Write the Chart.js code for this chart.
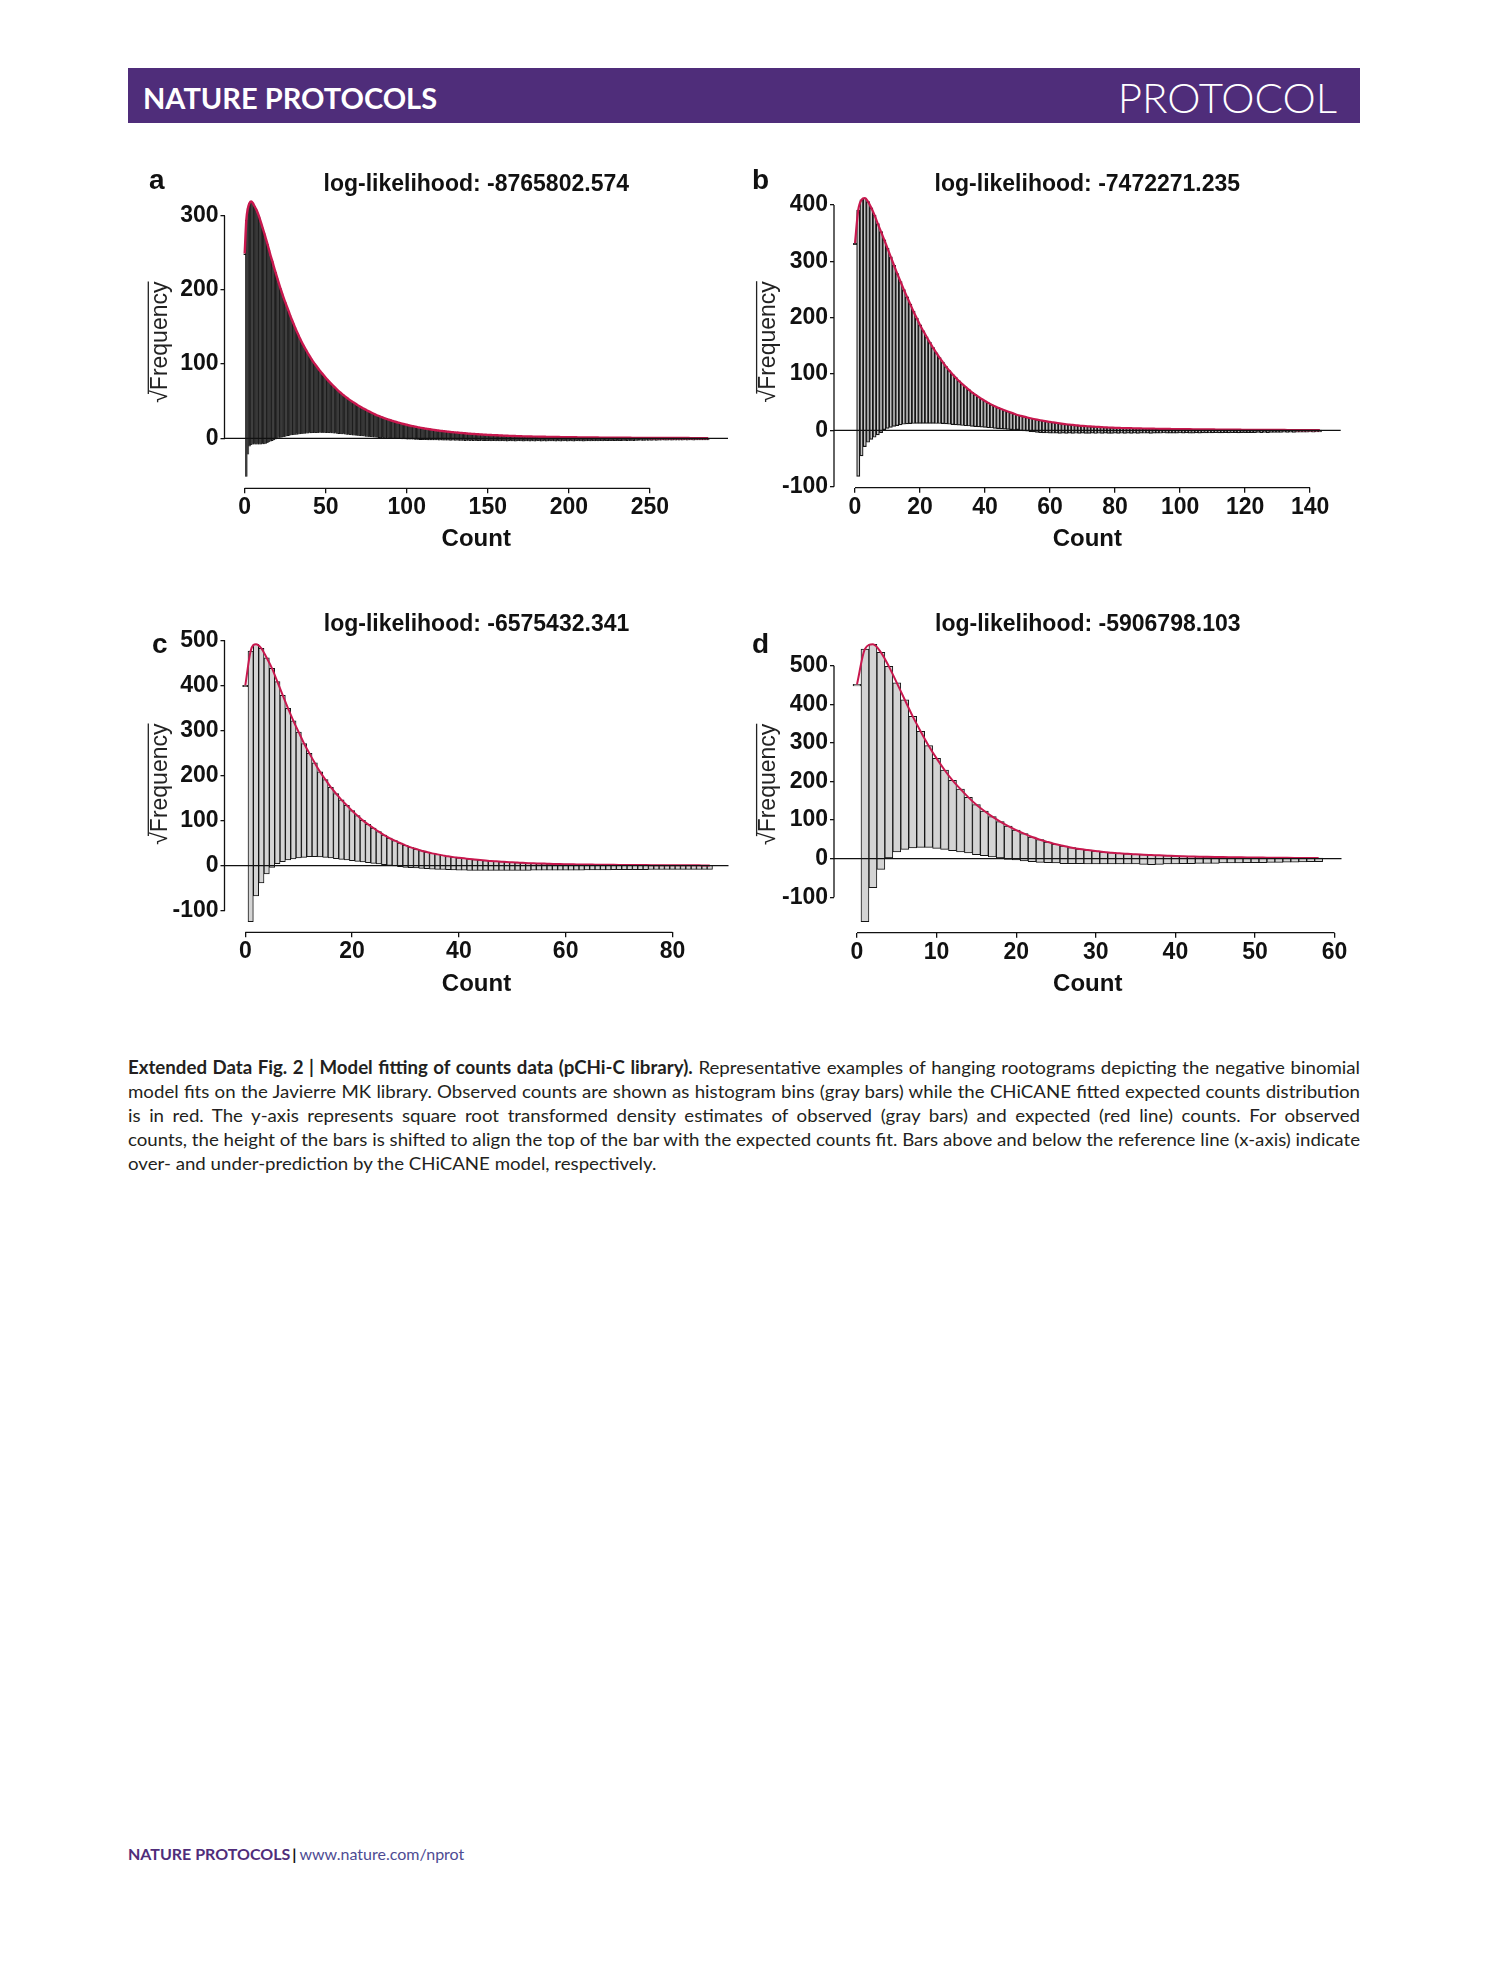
<!DOCTYPE html>
<html>
<head>
<meta charset="utf-8">
<title>Extended Data Fig. 2 | Model fitting of counts data</title>
<script src="https://cdn.jsdelivr.net/npm/chart.js@4.4.1/dist/chart.umd.min.js"></script>
<style>
  body { margin: 0; background: #fff; }
  #page { position: relative; width: 1489px; height: 1978px; background: #fff; overflow: hidden; }
  .abs { position: absolute; }
  #header { left: 128px; top: 68px; width: 1232px; height: 55px; background: #4f2d7a; }
  #journal { left: 143px; top: 82.6px; font: 700 29px/1 Lato, sans-serif; color: #fff; white-space: nowrap; }
  #kind { right: 152px; top: 75.5px; font: 300 42px/1 Lato, sans-serif; color: #fff; white-space: nowrap; }
  .letter { position: absolute; font: 700 28px/1 "Liberation Sans", Arial, sans-serif; color: #111; }
  canvas { position: absolute; }
  .cap { position: absolute; left: 128px; white-space: nowrap; font: 400 18px/24px Lato, sans-serif; color: #231f20; transform-origin: 0 0; }
  .cap b { font-weight: 700; }
  #footer { left: 128px; top: 1846px; font: 16px/1 Lato, sans-serif; white-space: nowrap; }
  #footer .j { color: #4f2d7a; font-weight: 700; }
  #footer .bar { color: #111; font-weight: 700; margin: 0 3px 0 2px; }
  #footer .url { color: #4d4b93; }
</style>
</head>
<body>
<div id="page">
  <div id="header" class="abs"></div>
  <div id="journal" class="abs">NATURE PROTOCOLS</div>
  <div id="kind" class="abs">PROTOCOL</div>

  <canvas id="chartA" width="600" height="400" style="left:130px; top:160px"></canvas>
  <canvas id="chartB" width="630" height="400" style="left:730px; top:160px"></canvas>
  <canvas id="chartC" width="600" height="400" style="left:130px; top:600px"></canvas>
  <canvas id="chartD" width="630" height="400" style="left:730px; top:600px"></canvas>

  <div class="letter" style="left:149px; top:166px">a</div>
  <div class="letter" style="left:752px; top:166px">b</div>
  <div class="letter" style="left:152px; top:629.5px">c</div>
  <div class="letter" style="left:752px; top:629.5px">d</div>

  <div class="cap" style="top:1055px"><b>Extended Data Fig. 2 | Model fitting of counts data (pCHi-C library).</b> Representative examples of hanging rootograms depicting the negative binomial</div>
  <div class="cap" style="top:1079px">model fits on the Javierre MK library. Observed counts are shown as histogram bins (gray bars) while the CHiCANE fitted expected counts distribution</div>
  <div class="cap" style="top:1103px">is in red. The y-axis represents square root transformed density estimates of observed (gray bars) and expected (red line) counts. For observed</div>
  <div class="cap" style="top:1127px">counts, the height of the bars is shifted to align the top of the bar with the expected counts fit. Bars above and below the reference line (x-axis) indicate</div>
  <div class="cap" style="top:1151px">over- and under-prediction by the CHiCANE model, respectively.</div>

  <div id="footer" class="abs"><span class="j">NATURE PROTOCOLS</span><span class="bar">|</span><span class="url">www.nature.com/nprot</span></div>
</div>

<script>
// sqrt(expected frequency) per count = top of each hanging bar and the red fit
const expectedA = [
  249,294,310,317,319,317,313,309,304,298,
  291,284,277,269.5,262,254,246,239,231,224,
  216.5,209.5,202.5,196,189.5,183.5,177.7,172,166,160.5,
  155,149.8,144.6,139.8,135,130.5,126.2,122.3,118.4,114.6,
  111,107.5,104,101,98,95,92,89.4,86.8,84.2,
  81.6,79.1,76.7,74.4,72.1,69.9,67.8,65.7,63.7,61.7,
  59.8,58,56.3,54.6,53,51.4,49.9,48.5,47.1,45.7,
  44.3,43,41.7,40.5,39.3,38.1,37,35.9,34.8,33.7,
  32.6,31.6,30.7,29.8,28.9,28.1,27.3,26.5,25.7,25,
  24.3,23.6,22.9,22.3,21.6,21,20.4,19.8,19.2,18.7,
  18.2,17.6,17.1,16.6,16.2,15.7,15.3,14.8,14.4,14,
  13.6,13.2,12.9,12.5,12.2,11.9,11.5,11.2,10.9,10.6,
  10.3,10,9.8,9.5,9.3,9,8.8,8.5,8.3,8.1,
  7.9,7.7,7.5,7.3,7.1,6.9,6.7,6.5,6.3,6.2,
  6,5.9,5.7,5.6,5.4,5.3,5.1,5,4.9,4.7,
  4.6,4.5,4.4,4.3,4.2,4.1,4,3.9,3.8,3.7,
  3.6,3.5,3.4,3.3,3.2,3.1,3.05,3,2.9,2.8,
  2.7,2.65,2.6,2.55,2.5,2.45,2.4,2.35,2.3,2.25,
  2.2,2.15,2.1,2.05,2,2,1.95,1.9,1.9,1.85,
  1.8,1.77,1.73,1.7,1.66,1.63,1.6,1.56,1.53,1.5,
  1.46,1.43,1.4,1.36,1.33,1.3,1.26,1.23,1.2,1.16,
  1.13,1.1,1.08,1.06,1.04,1.02,1,0.98,0.96,0.94,
  0.92,0.9,0.88,0.86,0.84,0.82,0.8,0.78,0.76,0.74,
  0.72,0.7,0.69,0.68,0.67,0.66,0.65,0.63,0.62,0.61,
  0.6,0.59,0.57,0.56,0.55,0.54,0.53,0.51,0.5,0.49,
  0.48,0.47,0.45,0.44,0.43,0.43,0.42,0.41,0.41,0.4,
  0.39,0.38,0.38,0.37,0.36,0.35,0.35,0.34,0.33,0.32,
  0.32,0.31,0.3,0.3,0.29,0.28,0.27,0.27,0.26,0.25,
  0.24,0.24,0.23,0.22,0.21,0.21,0.2
];
// bottom of each hanging bar: sqrt(expected) - sqrt(observed)
const bottomA = [
  249,-52,-22,-11,-9,-8.5,-8.5,-8.5,-8.5,-8.5,
  -8.5,-8,-8,-7.5,-6.5,-5.5,-4.5,-3.5,-2.5,-1.5,
  -0.8,0,0.7,1.2,1.7,2.2,2.7,3.2,3.6,4,
  4.3,4.6,4.9,5.2,5.5,5.8,6,6.2,6.3,6.5,
  6.7,6.9,7,7.1,7.2,7.2,7.3,7.3,7.2,7.3,
  7.2,7.1,7,6.8,6.7,6.5,6.3,6.1,5.9,5.7,
  5.5,5.3,5.1,4.9,4.6,4.4,4.1,3.9,3.7,3.5,
  3.3,3.1,2.9,2.7,2.4,2.2,2,1.8,1.6,1.3,
  1.1,0.9,0.7,0.5,0.3,0.1,-0.1,-0.3,-0.4,-0.5,
  -0.6,-0.7,-0.8,-0.9,-0.9,-1,-1.1,-1.2,-1.3,-1.4,
  -1.5,-1.6,-1.6,-1.7,-1.8,-1.9,-2,-2.1,-2.2,-2.2,
  -2.3,-2.4,-2.3,-2.5,-2.6,-2.5,-2.7,-2.7,-2.8,-2.6,
  -2.9,-2.8,-3,-2.9,-3,-3.1,-2.9,-3.2,-3,-3.1,
  -3.2,-3.1,-3.3,-3.2,-3.4,-3.2,-3.5,-3.3,-3.4,-3.6,
  -3.3,-3.5,-3.4,-3.7,-3.5,-3.6,-3.4,-3.7,-3.5,-3.6,
  -3.8,-3.6,-3.9,-3.7,-3.8,-4,-3.7,-3.9,-4.1,-3.8,
  -4,-3.9,-4.2,-3.8,-4,-4.1,-3.9,-4.2,-4,-3.8,
  -4.1,-4,-4.3,-3.9,-4.1,-4,-4.2,-3.9,-4,-4.3,
  -4.1,-3.8,-4,-4.2,-4.1,-3.9,-4.2,-4,-4.1,-3.9,
  -4,-4.1,-4.2,-3.9,-4,-4.3,-4,-4.1,-3.8,-4.2,
  -4,-4.1,-3.9,-4.2,-4,-3.8,-4.1,-4,-3.9,-4.2,
  -3.9,-4,-3.7,-4,-3.9,-3.8,-4.1,-3.7,-3.9,-3.8,
  -3.6,-3.9,-3.7,-3.8,-3.5,-3.8,-3.6,-3.7,-3.5,-3.8,
  -3.6,-3.6,-3.5,-3.7,-3.4,-3.6,-3.5,-3.3,-3.6,-3.4,
  -3.5,-3.2,-3.4,-3.3,-3.1,-3.4,-3.2,-3.3,-3,-3.2,
  -3.1,-3.2,-3.1,-3,-3.2,-2.9,-3.1,-3,-2.8,-3.1,
  -2.9,-3,-2.8,-2.9,-3.1,-2.8,-2.9,-2.7,-3,-2.8,
  -2.9,-2.7,-2.8,-2.9,-2.6,-2.8,-2.7,-2.9,-2.6,-2.8,
  -2.7,-2.6,-2.8,-2.7,-2.6,-2.8,-2.7
];

const expectedB = [
  332,391,409,412,406,395,382,367,352.6,338,
  323,308,293,278,264,250,237,224,211,199,
  187,176.5,166,156,146.7,137.7,129,121,113,106,
  99.4,93.4,87.6,82.2,77,72.1,67.5,63.3,59.2,55.5,
  52,48.7,45.6,42.8,40.2,37.8,35.5,33.4,31.4,29.3,
  27.2,25.7,24.2,22.8,21.4,20.1,18.9,17.8,16.8,15.8,
  14.8,14,13.2,12.4,11.5,10.7,10.1,9.5,8.9,8.3,
  7.7,7.3,7,6.6,6.3,5.9,5.6,5.3,5,4.7,
  4.4,4.25,4.1,3.95,3.8,3.7,3.55,3.45,3.3,3.15,
  3,2.9,2.8,2.7,2.6,2.5,2.45,2.35,2.25,2.2,
  2.1,2.05,2,1.9,1.85,1.8,1.75,1.7,1.65,1.55,
  1.5,1.45,1.4,1.35,1.3,1.25,1.2,1.1,1.05,1,
  0.9,0.88,0.85,0.82,0.8,0.77,0.74,0.72,0.69,0.66,
  0.63,0.6,0.58,0.55,0.52,0.5,0.47,0.44,0.42,0.39,
  0.36,0.34,0.31,0.3
];
const bottomB = [
  332,-82,-45.6,-29,-21.3,-16,-12.4,-8.3,-4.1,0,
  3.5,5.3,7.1,8.3,9.5,10.7,11.2,11.8,12,12.4,
  12.4,12.4,12.4,12.4,12.4,12,12,11.8,11.2,10.7,
  10,9.5,9,8.5,8,7.6,7,6.5,6,5.5,
  5,4.5,4,3.5,3,2.5,2,1.5,1,0.5,
  0,-0.5,-1,-1.5,-2.5,-3,-3.6,-4.2,-4.5,-4.8,
  -5,-5.3,-4.9,-5.4,-5.1,-5.5,-5.2,-5.6,-5.3,-5.5,
  -5.1,-5.6,-5.4,-5.2,-5.7,-5.3,-5.5,-5.1,-5.4,-5.6,
  -5.2,-5.5,-5.3,-5.6,-5.1,-5.4,-5.2,-5.5,-5,-5.3,
  -5.1,-5.4,-4.9,-5.2,-5.3,-4.8,-5.1,-5.2,-4.9,-5,
  -4.8,-5.1,-4.7,-5,-4.9,-4.6,-4.9,-4.7,-4.5,-4.8,
  -4.6,-4.4,-4.7,-4.5,-4.3,-4.6,-4.4,-4.2,-4.5,-4.3,
  -4.1,-4.3,-4,-4.2,-3.9,-4.1,-3.8,-4,-3.7,-3.9,
  -3.6,-3.8,-3.5,-3.7,-3.4,-3.6,-3.3,-3.5,-3.2,-3.4,
  -3.1,-3.3,-3,-3.1
];

const expectedC = [
  400,476,491,482,461,437.5,408,378,349,321,
  296,271,249,228,208,191,174,160,146,134,
  122,111,100.5,91.6,83.5,75.4,68,61.3,55.4,50.3,
  45,40.6,37,33.3,30.3,27.3,25.1,22.9,20.7,19,
  17.7,16.3,14.8,13.5,12.6,11.5,10.3,9.6,8.9,8.2,
  7.4,6.9,6.4,5.6,5.2,4.9,4.6,4.1,3.8,3.5,
  3.3,3.1,2.9,2.7,2.5,2.4,2.2,2.1,2,1.9,
  1.8,1.7,1.6,1.5,1.4,1.3,1.2,1.15,1.1,1,
  0.95,0.9,0.85,0.8,0.75,0.7,0.65,0.6
];
const bottomC = [
  400,-124,-67,-38,-18.5,-3.7,4.4,8.9,12.6,14.8,
  17,18.5,20,20,19.2,18.5,17,15.5,14,12.6,
  11,9.6,8.1,6.7,5.2,3.7,2.2,0.7,-0.7,-2.2,
  -3.7,-4.4,-5.2,-5.9,-6.7,-7.5,-8,-8.5,-9,-9.5,
  -10,-10,-10.5,-10.5,-10.5,-10.5,-10.5,-10.5,-10.5,-10.5,
  -10.5,-10.3,-10.3,-10.3,-10.2,-10.2,-10,-10,-10,-10,
  -10,-9.8,-9.8,-9.7,-9.6,-9.5,-9.4,-9.3,-9.2,-9.1,
  -9,-9,-8.9,-8.8,-8.7,-8.6,-8.5,-8.5,-8.4,-8.3,
  -8.3,-8.2,-8.2,-8.1,-8.1,-8,-8,-8
];

const expectedD = [
  452,543.6,555.7,535,498.7,456,412,369,330,293,
  260,230,203,180.6,159,140,123.6,109,96,84.7,
  74.3,64.8,56.2,49.3,43.2,37.2,32.8,28.5,25.1,22.5,
  19.9,17.3,15.6,13.8,12.5,11.2,10.4,9.5,8.6,7.8,
  6.9,6.3,5.8,5.3,4.9,4.5,4.1,3.8,3.5,3.2,
  3,2.8,2.6,2.4,2.2,2,1.9,1.8,1.7
];
const bottomD = [
  452,-163,-75,-27.7,0,17.3,24.2,27.7,29.4,29.4,
  26.8,24.2,20.7,17.3,14.7,10.4,7.8,4.3,1.7,-1.7,
  -3.5,-6,-7.8,-9.5,-10.4,-11.2,-13,-13,-13,-13.8,
  -13.8,-13.8,-13.8,-13.8,-13.8,-13.8,-14.7,-15.6,-14.7,-13.8,
  -13.8,-13,-13,-12,-12,-12,-11,-11,-11,-10.4,
  -10.4,-10,-9.5,-9.5,-9,-9,-8.5,-8,-8
];

// axis ticks
const xTicksA = [0, 50, 100, 150, 200, 250];
const yTicksA = [0, 100, 200, 300];
const xTicksB = [0, 20, 40, 60, 80, 100, 120, 140];
const yTicksB = [-100, 0, 100, 200, 300, 400];
const xTicksC = [0, 20, 40, 60, 80];
const yTicksC = [-100, 0, 100, 200, 300, 400, 500];
const xTicksD = [0, 10, 20, 30, 40, 50, 60];
const yTicksD = [-100, 0, 100, 200, 300, 400, 500];

const titles = [
  'log-likelihood: -8765802.574',
  'log-likelihood: -7472271.235',
  'log-likelihood: -6575432.341',
  'log-likelihood: -5906798.103'
];

const RED = '#c8184e';
const INK = '#111111';
const SANS = '"Liberation Sans", Arial, Helvetica, sans-serif';

Chart.defaults.font.family = SANS;

// Prism-style axes: lines only over the tick range, plus the zero reference line
const prismAxes = {
  id: 'prismAxes',
  afterDatasetsDraw(chart) {
    const { ctx, chartArea } = chart;
    const y0 = chart.scales.y.getPixelForValue(0);
    ctx.save();
    ctx.strokeStyle = INK;
    ctx.lineWidth = 1.3;
    ctx.beginPath();
    ctx.moveTo(chartArea.left, y0);
    ctx.lineTo(chartArea.right, y0);
    ctx.stroke();
    ctx.restore();
  },
  afterDraw(chart) {
    const { ctx, chartArea } = chart;
    const x = chart.scales.x, y = chart.scales.y;
    const xt = x.ticks, yt = y.ticks;
    ctx.save();
    ctx.strokeStyle = INK;
    ctx.lineWidth = 1.3;
    ctx.beginPath();
    ctx.moveTo(chartArea.left, y.getPixelForValue(yt[0].value));
    ctx.lineTo(chartArea.left, y.getPixelForValue(yt[yt.length - 1].value));
    ctx.moveTo(x.getPixelForValue(xt[0].value), chartArea.bottom);
    ctx.lineTo(x.getPixelForValue(xt[xt.length - 1].value), chartArea.bottom);
    ctx.stroke();

    // bar of the radical sign over "Frequency"
    const t = y.options.title;
    const f = Chart.helpers.toFont(t.font);
    const pad = Chart.helpers.toPadding(t.padding);
    const tx = y.left + pad.top + f.lineHeight / 2;
    const ty = (y.top + y.bottom) / 2;
    ctx.font = f.string;
    const w = ctx.measureText(t.text).width;
    const ws = ctx.measureText('√').width;
    const lx = tx - 0.53 * f.size;
    ctx.lineWidth = 1.3;
    ctx.strokeStyle = '#222';
    ctx.beginPath();
    ctx.moveTo(lx, ty + w / 2 - ws * 0.7);
    ctx.lineTo(lx, ty - w / 2);
    ctx.stroke();
    ctx.restore();
  }
};

function rootogram(id, expected, bottom, xTicks, yTicks, title, o) {
  const counts = expected.map((_, i) => i);
  const fit = counts.map(k => ({ x: k, y: expected[k] }));
  const bars = counts.map(k => ({ x: k, y: [bottom[k], expected[k]] }));

  return new Chart(document.getElementById(id), {
    type: 'bar',
    data: {
      datasets: [
        {
          type: 'line',
          data: fit,
          borderColor: RED,
          borderWidth: o.lineWidth,
          pointRadius: 0,
          cubicInterpolationMode: 'monotone',
          order: 0
        },
        {
          type: 'bar',
          data: bars,
          backgroundColor: o.barFill,
          borderColor: '#151515',
          borderWidth: o.barBorder,
          borderSkipped: false,
          barPercentage: o.barPct,
          categoryPercentage: 1,
          minBarLength: 1.5,
          order: 1
        }
      ]
    },
    options: {
      responsive: false,
      animation: false,
      layout: { padding: { left: 0, right: o.padRight, top: 0, bottom: 0 } },
      plugins: {
        legend: { display: false },
        tooltip: { enabled: false },
        title: {
          display: true,
          text: title,
          fullSize: false,
          color: INK,
          font: { size: 23, weight: 'bold', lineHeight: 1 },
          padding: { top: 13, bottom: 0 }
        }
      },
      scales: {
        x: {
          type: 'linear',
          min: o.xMin,
          max: o.xMax,
          offset: false,
          afterBuildTicks: s => { s.ticks = xTicks.map(v => ({ value: v })); },
          afterFit: s => { s.height = o.xHeight; },
          border: { display: false },
          grid: { drawOnChartArea: false, offset: false, tickLength: 5, color: INK, lineWidth: 1.3 },
          ticks: { color: INK, font: { size: 23, weight: 'bold' }, padding: 1, maxRotation: 0, autoSkip: false },
          title: {
            display: true,
            text: 'Count',
            color: INK,
            font: { size: 24, weight: 'bold' },
            padding: { top: 0, bottom: o.countPad }
          }
        },
        y: {
          type: 'linear',
          min: o.yMin,
          max: o.yMax,
          afterBuildTicks: s => { s.ticks = yTicks.map(v => ({ value: v })); },
          afterFit: s => { s.width = o.yWidth; },
          border: { display: false },
          grid: { drawOnChartArea: false, tickLength: 4, color: INK, lineWidth: 1.3 },
          ticks: { color: INK, font: { size: 23, weight: 'bold' }, padding: 2 },
          title: {
            display: true,
            text: '√Frequency',
            color: '#222',
            font: { size: 23, weight: 'normal' },
            padding: { top: o.yTitlePad, bottom: 0 }
          }
        }
      }
    },
    plugins: [prismAxes]
  });
}

rootogram('chartA', expectedA, bottomA, xTicksA, yTicksA, titles[0], {
  xMin: -12.46, xMax: 298.2, yMin: -67.4, yMax: 326.5,
  yWidth: 94.5, xHeight: 71.7, padRight: 2, yTitlePad: 16.7, countPad: 6,
  lineWidth: 2.4, barFill: '#1c1c1c', barBorder: 0.8, barPct: 1.6
});
rootogram('chartB', expectedB, bottomB, xTicksB, yTicksB, titles[1], {
  xMin: -6.46, xMax: 149.4, yMin: -101.9, yMax: 415.9,
  yWidth: 104, xHeight: 72.3, padRight: 19.3, yTitlePad: 25, countPad: 6,
  lineWidth: 2.2, barFill: '#c4c4c4', barBorder: 1.2, barPct: 1
});
rootogram('chartC', expectedC, bottomC, xTicksC, yTicksC, titles[2], {
  xMin: -3.9, xMax: 90.5, yMin: -147.7, yMax: 509.3,
  yWidth: 94.5, xHeight: 67.7, padRight: 1.5, yTitlePad: 16.7, countPad: 1.5,
  lineWidth: 2, barFill: '#d4d4d4', barBorder: 1, barPct: 1
});
rootogram('chartD', expectedD, bottomD, xTicksD, yTicksD, titles[3], {
  xMin: -2.89, xMax: 60.87, yMin: -191.9, yMax: 577.4,
  yWidth: 104, xHeight: 67.3, padRight: 18.5, yTitlePad: 25, countPad: 1.5,
  lineWidth: 2, barFill: '#d4d4d4', barBorder: 1, barPct: 1
});

// justify caption lines to the text block width (the journal font is condensed)
function fitCaption() {
  const lines = Array.from(document.querySelectorAll('.cap'));
  const full = 1232;
  lines.forEach(el => { el.style.transform = 'none'; el.style.wordSpacing = '0px'; });
  const widths = lines.map(el => el.getBoundingClientRect().width);
  const g = Math.min(...widths.slice(0, -1).map(w => full / w));
  lines.forEach((el, i) => {
    el.style.transform = `scaleX(${g})`;
    if (i < lines.length - 1) {
      const spaces = (el.textContent.match(/ /g) || []).length;
      el.style.wordSpacing = ((full / g - widths[i]) / spaces) + 'px';
    }
  });
}
fitCaption();
if (document.fonts) document.fonts.ready.then(fitCaption);
</script>
</body>
</html>
